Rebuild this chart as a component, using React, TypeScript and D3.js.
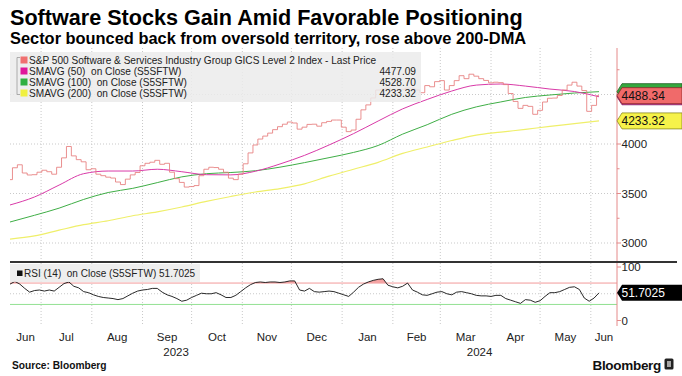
import React from "react";
import * as d3 from "d3";

const START_DATE = new Date(2023, 5, 12);
const AXIS_END_DATE = new Date(2024, 5, 17);
const PRICE_STEP_DAYS = 3;
const MA_STEP_DAYS = 15;

const priceClose = [
  3640, 3760, 3790, 3707, 3687, 3690, 3715, 3735, 3720, 3695,
  3765, 3860, 3975, 3880, 3842, 3820, 3740, 3750, 3695, 3680,
  3665, 3656, 3616, 3590, 3645, 3688, 3712, 3780, 3805, 3816,
  3835, 3795, 3805, 3715, 3650, 3612, 3565, 3570, 3580, 3680,
  3745, 3765, 3762, 3745, 3715, 3655, 3640, 3695, 3800, 3910,
  3990, 4050, 4080, 4110, 4145, 4175, 4200, 4222, 4212, 4150,
  4170, 4198, 4200, 4180, 4215, 4228, 4242, 4242, 4170, 4125,
  4141, 4250, 4345, 4395, 4465, 4545, 4555, 4565, 4528, 4540,
  4552, 4565, 4565, 4545, 4518, 4590, 4578, 4630, 4640, 4545,
  4590, 4640, 4690, 4660, 4705, 4685, 4660, 4642, 4618, 4624,
  4620, 4600, 4510, 4430, 4360, 4390, 4380, 4300, 4340, 4424,
  4462, 4464, 4490, 4545, 4595, 4624, 4585, 4540, 4330, 4390,
  4488.34,
];

const rsi14 = [
  68, 73, 68, 60, 53, 56, 57, 55, 57, 55,
  62, 69, 72, 64, 61, 54, 52, 48, 45, 43,
  42, 41, 39, 41, 46, 51, 55, 57, 58, 60,
  60, 53, 48, 45, 41, 36, 38, 43, 47, 51,
  50, 50, 52, 48, 43, 43, 47, 54, 61, 67,
  71, 72, 71, 72, 72, 71, 72, 74, 74, 57,
  55, 60, 54, 53, 54, 55, 54, 51, 48, 45,
  53, 62, 68, 72, 75, 77, 78, 66, 63, 61,
  64, 70, 57, 53, 48, 47, 50, 53, 54, 50,
  48, 53, 54, 52, 50, 47, 46, 46, 45, 47,
  47, 41, 38, 35, 32, 39, 38, 34, 37, 45,
  52, 52, 54, 58, 62, 63, 58, 42, 36, 42,
  51.7025,
];

const sma50 = [3384, 3465, 3585, 3700, 3727, 3727, 3745, 3720, 3690, 3688, 3725, 3798, 3885, 3990, 4105, 4232, 4355, 4450, 4535, 4595, 4606, 4585, 4555, 4530, 4477.09];
const sma100 = [3212, 3280, 3352, 3440, 3510, 3552, 3610, 3668, 3700, 3712, 3730, 3766, 3812, 3862, 3915, 3985, 4100, 4195, 4300, 4375, 4425, 4470, 4495, 4515, 4528.7];
const sma200 = [3040, 3072, 3130, 3185, 3225, 3275, 3315, 3364, 3420, 3470, 3515, 3550, 3598, 3675, 3745, 3815, 3905, 3970, 4035, 4090, 4120, 4148, 4178, 4205, 4233.32];

const legendLabels = [
  "S&P 500 Software & Services Industry Group GICS Level 2 Index - Last Price",
  "SMAVG (50)  on Close (S5SFTW)",
  "SMAVG (100)  on Close (S5SFTW)",
  "SMAVG (200)  on Close (S5SFTW)",
];
const legendValues = ["", "4477.09", "4528.70", "4233.32"];
const rsiLegend = "RSI (14)  on Close (S5SFTW) 51.7025";
const tagLabels = { price: "4488.34", sma200: "4233.32", rsi: "51.7025" };
const lastValues = { price: 4488.34, sma50: 4477.09, sma100: 4528.7, sma200: 4233.32, rsi: 51.7025 };
const priceTicks = [3000, 3500, 4000, 4500];
const priceTickLabels = ["3000", "3500", "4000", ""];
const priceMinorTicks = [3250, 3750, 4250, 4750];
const rsiTicks = [0, 100];
const RSI_HIGH = 70;
const RSI_MID = 50;
const RSI_LOW = 30;

const C = {
  price: "#e67c7c",
  sma50: "#d93aa8",
  sma100: "#3fae46",
  sma200: "#efef6a",
  axis: "#e58a8a",
  grid: "#c9c9c9",
};
const FONT = "'Liberation Sans', Arial, sans-serif";

export default function App() {
  const W = 682, H = 376;
  const L = 10, R = 617;
  const topY = 48, upBot = 261, rsiTop = 263, rsiBot = 326;

  const x = d3.scaleTime().domain([START_DATE, AXIS_END_DATE]).range([L, R]);
  const y = d3.scaleLinear().domain([3000, 4000]).range([243, 144]);
  const yr = d3.scaleLinear().domain([0, 100]).range([320.5, 267]);

  const dates = priceClose.map((_, i) => d3.timeDay.offset(START_DATE, i * PRICE_STEP_DAYS));
  const maDates = sma50.map((_, i) => d3.timeDay.offset(START_DATE, i * MA_STEP_DAYS));

  const pLine = d3.line<number>().x((_, i) => x(dates[i])).y((d) => y(d)).curve(d3.curveStep);
  const maLine = d3.line<number>().x((_, i) => x(maDates[i])).y((d) => y(d)).curve(d3.curveMonotoneX);
  const rLine = d3.line<number>().x((_, i) => x(dates[i])).y((d) => yr(d)).curve(d3.curveLinear);
  const rAreaHigh = d3.area<number>().x((_, i) => x(dates[i])).y0(yr(RSI_HIGH)).y1((d) => yr(d));
  const rAreaLow = d3.area<number>().x((_, i) => x(dates[i])).y0(yr(RSI_LOW)).y1((d) => yr(d));

  const months = d3.timeMonth.range(d3.timeMonth.ceil(START_DATE), AXIS_END_DATE);
  const monthSpans = d3.timeMonth.range(d3.timeMonth.floor(START_DATE), AXIS_END_DATE).map((m) => {
    const a = Math.max(x(m), L);
    const b = Math.min(x(d3.timeMonth.offset(m, 1)), R);
    return { label: d3.timeFormat("%b")(m), cx: (a + b) / 2 };
  });
  const years = [2023, 2024].map((yy) => {
    const a = Math.max(x(new Date(yy, 0, 1)), L);
    const b = Math.min(x(new Date(yy + 1, 0, 1)), R);
    return { label: String(yy), cx: (a + b) / 2 };
  });

  const tag = (cy: number, w = 65, h = 16) => {
    const x0 = R;
    return `M${x0},${cy} L${x0 + 5},${cy - h / 2} L${x0 + w},${cy - h / 2} L${x0 + w},${cy + h / 2} L${x0 + 5},${cy + h / 2} Z`;
  };

  const legendColors = ["#f07070", "#e0189a", "#30b040", "#f0f040"];
  const legendRowY = [60, 71, 82, 93];

  return (
    <svg width={W} height={H} style={{ position: "absolute", left: 0, top: 0, background: "#fff" }} fontFamily={FONT}>
      <defs>
        <clipPath id="upclip"><rect x={L} y={topY} width={R - L} height={upBot - topY} /></clipPath>
        <clipPath id="hiclip"><rect x={L} y={rsiTop} width={R - L} height={yr(RSI_HIGH) - rsiTop} /></clipPath>
        <clipPath id="loclip"><rect x={L} y={yr(RSI_LOW)} width={R - L} height={rsiBot - yr(RSI_LOW)} /></clipPath>
      </defs>
      <rect x={0} y={0} width={W} height={H} fill="#fff" />

      <text x={10} y={25} fontSize={21.6} fontWeight="bold" fill="#000">Software Stocks Gain Amid Favorable Positioning</text>
      <text x={10} y={43.5} fontSize={16.4} fontWeight="bold" fill="#000">Sector bounced back from oversold territory, rose above 200-DMA</text>

      {/* grid */}
      {months.map((m, i) => (
        <g key={i}>
          <line x1={x(m)} x2={x(m)} y1={topY} y2={upBot} stroke={C.grid} strokeDasharray="1,2" />
          <line x1={x(m)} x2={x(m)} y1={rsiTop} y2={rsiBot} stroke={C.grid} strokeDasharray="1,2" />
        </g>
      ))}
      {priceTicks.map((t) => (
        <line key={t} x1={L} x2={R} y1={y(t)} y2={y(t)} stroke={C.grid} strokeDasharray="1,2" />
      ))}
      <line x1={L} x2={R} y1={yr(RSI_MID)} y2={yr(RSI_MID)} stroke={C.grid} strokeDasharray="1,2" />

      {/* upper panel lines */}
      <g clipPath="url(#upclip)" fill="none">
        <path d={maLine(sma200) || ""} stroke={C.sma200} strokeWidth={1.2} />
        <path d={maLine(sma100) || ""} stroke={C.sma100} strokeWidth={1} />
        <path d={maLine(sma50) || ""} stroke={C.sma50} strokeWidth={1} />
        <path d={pLine(priceClose) || ""} stroke={C.price} strokeWidth={1} strokeOpacity={0.85} />
      </g>

      {/* legend */}
      <rect x={10} y={52} width={411} height={50} fill="#ebebeb" fillOpacity={0.85} />
      <path d="M20,57.5 L17,57.5 L17,94.5 L20,94.5" fill="none" stroke="#9a9a9a" strokeWidth={0.8} />
      {legendLabels.map((s, i) => (
        <g key={i}>
          <rect x={20.5} y={legendRowY[i] - 3.5} width={7} height={7} fill={legendColors[i]} />
          <text x={29} y={legendRowY[i] + 3.5} fontSize={10.1} fill="#222" style={{ whiteSpace: "pre" }}>{s}</text>
          {legendValues[i] && (
            <text x={416} y={legendRowY[i] + 3.5} fontSize={10.1} fill="#222" textAnchor="end">{legendValues[i]}</text>
          )}
        </g>
      ))}

      {/* RSI panel */}
      <line x1={L} x2={R} y1={yr(RSI_HIGH)} y2={yr(RSI_HIGH)} stroke="#f29a9a" strokeWidth={1} />
      <line x1={L} x2={R} y1={yr(RSI_LOW)} y2={yr(RSI_LOW)} stroke="#8fe08f" strokeWidth={1} />
      <path d={rAreaHigh(rsi14) || ""} fill="#f4a3a3" clipPath="url(#hiclip)" />
      <path d={rAreaLow(rsi14) || ""} fill="#a6e6a6" clipPath="url(#loclip)" />
      <path d={rLine(rsi14) || ""} fill="none" stroke="#111" strokeWidth={0.9} />
      <rect x={10} y={264} width={190} height={18} fill="#ebebeb" fillOpacity={0.85} />
      <rect x={17} y={270.5} width={5.5} height={5.5} fill="#111" />
      <text x={24} y={276.5} fontSize={10} fill="#222" style={{ whiteSpace: "pre" }}>{rsiLegend}</text>

      {/* separator */}
      <line x1={10} x2={677} y1={262} y2={262} stroke="#333" strokeWidth={2} />

      {/* right axis */}
      <line x1={R} x2={R} y1={topY} y2={upBot} stroke={C.axis} />
      <line x1={R} x2={R} y1={rsiTop} y2={rsiBot} stroke={C.axis} />
      {priceTicks.map((t, i) => (
        <g key={t}>
          <line x1={R} x2={R + 4} y1={y(t)} y2={y(t)} stroke={C.axis} />
          {priceTickLabels[i] && (
            <text x={R + 4.5} y={y(t)} dy="0.36em" fontSize={11.5} fill="#222">{priceTickLabels[i]}</text>
          )}
        </g>
      ))}
      {priceMinorTicks.map((t) => (
        <line key={t} x1={R} x2={R + 2.5} y1={y(t)} y2={y(t)} stroke={C.axis} />
      ))}
      {rsiTicks.map((t) => (
        <g key={t}>
          <line x1={R} x2={R + 4} y1={yr(t)} y2={yr(t)} stroke={C.axis} />
          <text x={R + 4.5} y={yr(t)} dy="0.36em" fontSize={11.5} fill="#222">{t}</text>
        </g>
      ))}
      <line x1={R} x2={R + 2.5} y1={yr(RSI_MID)} y2={yr(RSI_MID)} stroke={C.axis} />

      {/* value tags */}
      <path d={tag(y(lastValues.sma200))} fill="#f6f24a" stroke="#8c8a20" strokeWidth={0.8} />
      <text x={R + 4.5} y={y(lastValues.sma200)} dy="0.36em" fontSize={12} fill="#111">{tagLabels.sma200}</text>
      <path d={tag(y(lastValues.sma50))} fill="#d93aa8" stroke="#7a1a5a" strokeWidth={0.8} />
      <path d={tag(y(lastValues.sma100))} fill="#35a83e" stroke="#1c5e20" strokeWidth={0.8} />
      <path d={tag(y(lastValues.price))} fill="#f06a6a" stroke="#8a2a2a" strokeWidth={0.8} />
      <text x={R + 4.5} y={y(lastValues.price)} dy="0.36em" fontSize={12} fill="#111">{tagLabels.price}</text>
      <path d={tag(yr(lastValues.rsi))} fill="#000" />
      <text x={R + 4.5} y={yr(lastValues.rsi)} dy="0.36em" fontSize={12} fill="#fff">{tagLabels.rsi}</text>

      {/* x axis labels */}
      {monthSpans.map((m, i) => (
        <text key={i} x={m.cx} y={341} fontSize={11.5} fill="#222" textAnchor="middle">{m.label}</text>
      ))}
      {years.map((yy) => (
        <text key={yy.label} x={yy.cx} y={356} fontSize={11.5} fill="#222" textAnchor="middle">{yy.label}</text>
      ))}

      {/* footer */}
      <text x={12} y={369} fontSize={10.2} fontWeight="bold" fill="#111">Source: Bloomberg</text>
      <text x={661} y={369.5} fontSize={13.5} fontWeight="bold" fill="#111" textAnchor="end" letterSpacing={-0.3}>Bloomberg</text>
      <rect x={664.5} y={358.5} width={9} height={11} rx={1.5} fill="#222" />
      <path d="M667,361 L671,361 L671,367 L667,367 Z" fill="#fff" fillOpacity={0.6} />
    </svg>
  );
}
